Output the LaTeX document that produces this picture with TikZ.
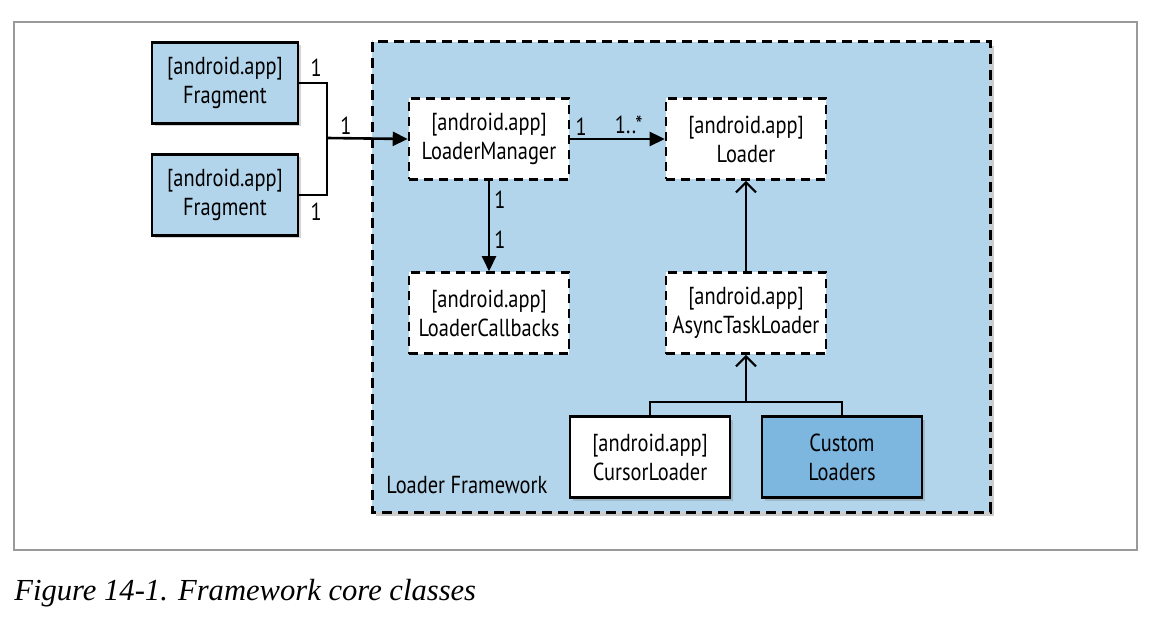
\documentclass[tikz,border=0pt]{standalone}
\usepackage{fontspec}
\usetikzlibrary{arrows.meta, shadows}
\newfontfamily\diagfont{PT Sans}[FakeStretch=0.83]
\newfontfamily\capfont{Liberation Serif}
\definecolor{paleblue}{HTML}{B3D5EB}
\definecolor{midblue}{HTML}{7DB6DE}
\definecolor{framegray}{HTML}{9A9A9A}

\begin{document}
\begin{tikzpicture}[
  x=0.5pt, y=-0.5pt,
  font=\diagfont\fontsize{12.3}{14.5}\selectfont,
  classbox/.style={draw=black, line width=1.3pt, align=center, inner sep=0pt,
    minimum width=80pt, minimum height=40.5pt},
  solidbox/.style={classbox, fill=#1, drop shadow={shadow xshift=1.5pt, shadow yshift=-1.5pt, opacity=0.35}},
  dashbox/.style={classbox, fill=white, dash pattern=on 4.5pt off 3pt},
  link/.style={line width=1.3pt},
  assoc/.style={link, -{Triangle[length=7.5pt, width=7pt]}},
  inherit/.style={link, -{Straight Barb[length=5pt, width=10pt, line width=1.1pt]}},
  mult/.style={inner sep=0pt},
]
\useasboundingbox (0,0) rectangle (1162,620);

% ===== Page frame and caption =====
\draw[framegray, line width=1pt] (14,22) rectangle (1137,550);
\node[anchor=base west, inner sep=0pt, font=\capfont\itshape\fontsize{15.3}{18}\selectfont]
  (caption) at (14,600) {Figure 14-1. Framework core classes};

% ===== Loader Framework container =====
\filldraw[fill=paleblue, draw=black, line width=1.5pt, dash pattern=on 5pt off 3pt,
  drop shadow={shadow xshift=2pt, shadow yshift=-2pt, opacity=0.4}]
  (372,42) rectangle (990,512);
\node[anchor=west, inner sep=0pt] (framework) at (386,485) {Loader Framework};

% ===== Fragments (outside) =====
\node[solidbox=paleblue, minimum width=73pt] (fragA) at (225,83) {[android.app]\\Fragment};
\node[solidbox=paleblue, minimum width=73pt] (fragB) at (225,195) {[android.app]\\Fragment};

% ===== Framework classes =====
\node[dashbox] (mgr) at (489,139) {[android.app]\\LoaderManager};
\node[dashbox] (loader) at (746,139) {[android.app]\\Loader};
\node[dashbox] (callbacks) at (489,313) {[android.app]\\LoaderCallbacks};
\node[dashbox] (asyncLoader) at (746,313) {[android.app]\\AsyncTaskLoader};
\node[solidbox=white] (cursorLoader) at (650,457) {[android.app]\\CursorLoader};
\node[solidbox=midblue] (customLoaders) at (842,457) {Custom\\Loaders};

% ===== Connectors =====
\coordinate (join) at (327,138);
\coordinate (fork) at (746,402);

% Fragments -> LoaderManager
\draw[link] (fragA.east) -| (join) |- (fragB.east);
\draw[assoc] (join) -- (mgr.west);
\node[mult] (multFragA) at ([shift={(17,-15)}]fragA.east) {1};
\node[mult] (multFragB) at ([shift={(17,17)}]fragB.east) {1};
\node[mult] (multJoin) at ([shift={(19,-12)}]join) {1};

% LoaderManager -> Loader
\draw[assoc] (mgr.east) -- (loader.west);
\node[mult] (multMgr) at ([shift={(11,-12)}]mgr.east) {1};
\node[mult] (multLoader) at ([shift={(-36,-14)}]loader.west) {1..*};

% LoaderManager -> LoaderCallbacks
\draw[assoc] (mgr.south) -- (callbacks.north);
\node[mult] (multMgrDown) at ([shift={(11,19)}]mgr.south) {1};
\node[mult] (multCallbacks) at ([shift={(11,-31)}]callbacks.north) {1};

% Inheritance
\draw[inherit] (asyncLoader.north) -- (loader.south);
\draw[inherit] (fork) -- (asyncLoader.south);
\draw[link] (cursorLoader.north) |- (fork) -| (customLoaders.north);

\end{tikzpicture}
\end{document}
